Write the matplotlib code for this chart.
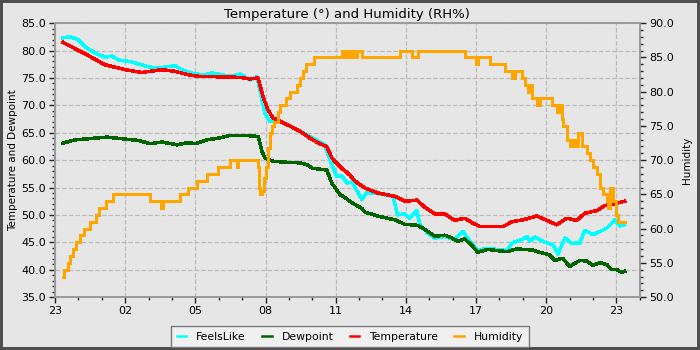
import datetime as dt
import matplotlib
matplotlib.use('Agg')
import matplotlib.pyplot as plt
import matplotlib.dates as mdates
from matplotlib.ticker import MultipleLocator, FormatStrFormatter

# readings, clock time "HH:MM" starting at 23:xx the evening before
temp_t = ['23:20', '00:25', '01:08', '02:00', '02:43', '03:34', '04:08', '04:41', '05:07', '06:55',
          '07:20', '07:41', '07:53', '08:06', '08:19', '08:37', '09:03', '09:28', '09:54', '10:19',
          '10:37', '10:50', '11:11', '11:36', '11:49', '12:15', '12:48', '13:32', '13:57', '14:28',
          '14:49', '15:14', '15:40', '16:05', '16:31', '16:52', '17:10', '18:09', '18:34', '19:00',
          '19:36', '20:02', '20:27', '20:53', '21:18', '21:39', '22:10', '22:30', '22:56', '23:09', '23:21']
temp = [81.5, 79.1, 77.4, 76.5, 76.0, 76.5, 76.2, 75.6, 75.3, 75.1,
        74.8, 75.0, 71.7, 69.2, 67.7, 67.1, 66.2, 65.3, 64.0, 63.0,
        62.5, 60.4, 58.8, 57.3, 56.2, 54.9, 54.0, 53.4, 52.5, 52.7,
        51.4, 50.2, 50.2, 49.0, 49.4, 48.5, 47.9, 47.9, 48.8, 49.1,
        49.8, 49.0, 48.2, 49.4, 49.0, 50.3, 50.8, 51.7, 52.0, 52.3, 52.5]

feels_t = ['23:20', '23:38', '23:59', '00:17', '00:43', '01:08', '01:26', '01:42', '02:17', '02:51',
           '03:16', '03:34', '04:08', '04:26', '04:59', '05:25', '05:43', '06:29', '06:55', '07:20',
           '07:38', '07:51', '07:58', '08:11', '08:37', '09:08', '09:28', '10:07', '10:32', '10:45',
           '11:03', '11:16', '11:29', '11:42', '12:07', '12:20', '12:48', '13:27', '13:39', '13:57',
           '14:10', '14:28', '14:36', '14:56', '15:14', '15:40', '16:05', '16:26', '16:44', '17:04',
           '17:30', '18:19', '18:32', '18:58', '19:10', '19:18', '19:31', '19:56', '20:17', '20:30',
           '20:48', '21:06', '21:26', '21:39', '22:00', '22:18', '22:36', '22:48', '22:56', '23:09', '23:21']
feels = [82.3, 82.5, 82.0, 80.7, 79.5, 78.8, 79.0, 78.3, 77.9, 77.2,
         76.8, 76.9, 77.2, 76.5, 75.7, 75.6, 75.9, 75.3, 75.7, 74.6,
         75.2, 71.0, 68.6, 67.1, 67.1, 66.0, 65.3, 63.8, 62.8, 60.1,
         57.0, 57.1, 55.8, 56.0, 52.8, 54.1, 53.9, 53.4, 50.0, 50.2,
         49.4, 50.8, 48.2, 46.7, 45.8, 46.1, 45.5, 47.0, 45.2, 43.6,
         43.9, 43.5, 44.9, 45.5, 46.1, 45.2, 46.0, 45.0, 44.6, 42.9,
         45.8, 44.8, 44.9, 47.2, 46.4, 47.0, 47.6, 48.5, 49.1, 48.0, 48.2]

dew_t = ['23:20', '23:51', '00:25', '01:13', '01:52', '02:33', '03:04', '03:34', '04:13', '04:41',
         '04:59', '05:30', '05:58', '06:29', '07:12', '07:41', '07:51', '07:58', '08:19', '08:55',
         '09:28', '09:46', '10:01', '10:37', '10:50', '11:11', '11:23', '11:42', '12:07', '12:15',
         '12:48', '13:32', '13:57', '14:31', '14:56', '15:14', '15:40', '15:58', '16:13', '16:31',
         '16:49', '17:04', '17:30', '18:19', '18:44', '19:25', '19:43', '20:09', '20:22', '20:42',
         '21:00', '21:26', '21:44', '22:00', '22:18', '22:36', '22:48', '23:01', '23:14', '23:21']
dew = [63.1, 63.7, 63.9, 64.2, 63.9, 63.6, 63.0, 63.3, 62.8, 63.2,
       63.0, 63.7, 64.0, 64.5, 64.5, 64.3, 61.6, 60.4, 59.8, 59.6,
       59.5, 59.2, 58.5, 58.2, 55.8, 53.7, 53.2, 52.2, 51.2, 50.5,
       49.8, 49.1, 48.3, 48.1, 47.0, 46.1, 46.3, 45.8, 45.2, 45.6,
       44.5, 43.2, 43.7, 43.3, 43.8, 43.6, 43.2, 42.7, 41.7, 42.1,
       40.6, 41.7, 41.6, 40.8, 41.3, 40.9, 40.0, 40.0, 39.5, 39.7]

hum_t = ['23:20', '23:24', '23:34', '23:38', '23:47', '23:54', '00:04', '00:15', '00:30', '00:44',
         '00:53', '01:10', '01:29', '03:04', '03:32', '03:37', '04:21', '04:40', '05:03', '05:29',
         '05:59', '06:29', '06:46', '06:49', '07:41', '07:43', '07:46', '07:51', '07:56', '08:01',
         '08:06', '08:11', '08:16', '08:21', '08:31', '08:37', '08:52', '09:04', '09:20', '09:28',
         '09:35', '09:45', '10:05', '11:16', '11:21', '11:26', '11:34', '11:42', '11:49', '11:54',
         '12:07', '13:45', '14:15', '14:30', '16:31', '17:01', '17:05', '17:35', '18:14', '18:32',
         '18:40', '18:58', '19:05', '19:13', '19:18', '19:23', '19:36', '19:43', '20:14', '20:27',
         '20:35', '20:40', '20:44', '20:52', '21:00', '21:09', '21:16', '21:21', '21:31', '21:44',
         '21:52', '22:00', '22:09', '22:18', '22:26', '22:35', '22:38', '22:43', '22:52', '22:59',
         '23:04', '23:13', '23:21']
hum = [53, 54, 55, 56, 57, 58, 59, 60, 61, 62,
       63, 64, 65, 64, 63, 64, 65, 66, 67, 68,
       69, 70, 69, 70, 69, 66, 65, 65.5, 67.4, 69,
       71.8, 74, 75, 75.5, 77, 78, 79, 80, 81, 82,
       83, 84, 85, 86, 85, 86, 85, 86, 85, 86,
       85, 86, 85, 86, 85, 84, 85, 84, 83, 82,
       83, 82, 81, 80, 81, 79, 78, 79, 78, 77,
       78, 76, 75, 73, 72, 73, 72, 74, 72, 71,
       70, 69, 68, 66, 65, 64, 63, 66, 64, 62,
       61, 61, 61]


def to_dates(times, day=dt.datetime(2023, 6, 10)):
    out = []
    cur = day
    prev = None
    for s in times:
        h, m = map(int, s.split(':'))
        if prev is not None and h < prev:
            cur = cur + dt.timedelta(days=1)
        prev = h
        out.append(cur.replace(hour=h, minute=m))
    return out


bg = '#e6e6e6'
fig = plt.figure(figsize=(7, 3.5), dpi=100, facecolor=bg, edgecolor='#4f4f4f', linewidth=4.3)
ax = fig.add_axes([0.0786, 0.151, 0.8354, 0.783])
ax.set_facecolor(bg)
ax2 = ax.twinx()

kw = dict(lw=1.8, antialiased=False)
l1, = ax.plot(to_dates(feels_t), feels, color='#00ffff', label='FeelsLike', **kw)
l2, = ax.plot(to_dates(dew_t), dew, color='#006400', label='Dewpoint', **kw)
l3, = ax.plot(to_dates(temp_t), temp, color='#ff0000', label='Temperature', **kw)
l4, = ax2.plot(to_dates(hum_t), hum, color='#ffa500', drawstyle='steps-post', label='Humidity', **kw)

ax.set_xlim(dt.datetime(2023, 6, 10, 23, 0), dt.datetime(2023, 6, 12, 0, 0))
ax.set_ylim(35, 85)
ax2.set_ylim(50, 90)

ax.xaxis.set_major_locator(mdates.HourLocator(byhour=[2, 5, 8, 11, 14, 17, 20, 23]))
ax.xaxis.set_minor_locator(mdates.HourLocator())
ax.xaxis.set_major_formatter(mdates.DateFormatter('%H'))
ax.yaxis.set_major_locator(MultipleLocator(5))
ax.yaxis.set_minor_locator(MultipleLocator(1))
ax.yaxis.set_major_formatter(FormatStrFormatter('%.1f'))
ax2.yaxis.set_major_locator(MultipleLocator(5))
ax2.yaxis.set_minor_locator(MultipleLocator(1))
ax2.yaxis.set_major_formatter(FormatStrFormatter('%.1f'))

for a in (ax, ax2):
    a.tick_params(which='major', length=4, width=1, labelsize=8, color='#222222', pad=2.5)
    a.tick_params(which='minor', length=2.5, width=1, color='#222222')
    for sp in a.spines.values():
        sp.set_color('#999999')
        sp.set_linewidth(1.2)

ax.grid(True, which='major', linestyle='--', color='#bbbbbb', linewidth=0.9)
ax.set_axisbelow(True)

ax.set_ylabel('Temperature and Dewpoint', fontsize=7.5, labelpad=2)
ax2.set_ylabel('Humidity', fontsize=7.5, labelpad=6)
ax.set_title('Temperature (\u00b0) and Humidity (RH%)', fontsize=9.5, pad=4)

leg = fig.legend(handles=[l1, l2, l3, l4], loc='lower center', bbox_to_anchor=(0.5, 0.0),
                 ncol=4, fontsize=7.8, frameon=True, fancybox=False, handlelength=0.9,
                 handletextpad=0.9, columnspacing=1.5, borderpad=0.5, borderaxespad=0.25)
leg.get_frame().set_edgecolor('#777777')
leg.get_frame().set_facecolor('#f0f0f0')
leg.get_frame().set_alpha(1)

fig.savefig('out.png', dpi=100, facecolor=fig.get_facecolor(), edgecolor=fig.get_edgecolor())
